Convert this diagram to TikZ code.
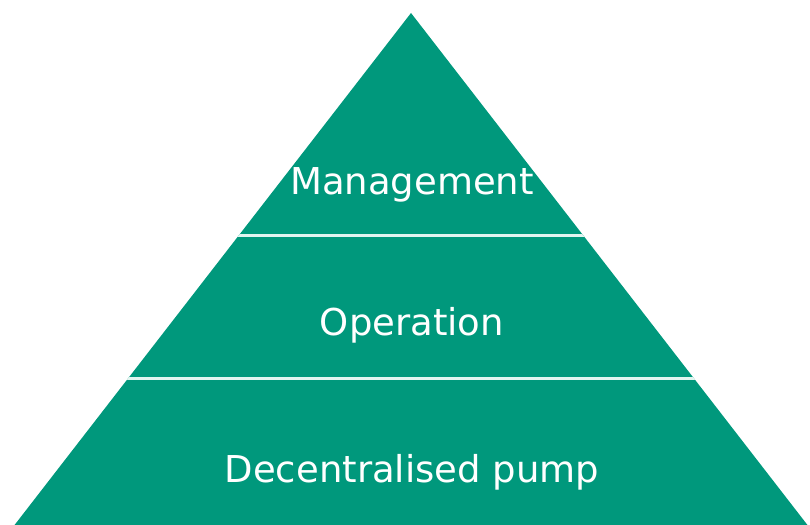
\documentclass[tikz,border=0pt]{standalone}
\usepackage{fontspec}
\setmainfont{DejaVu Sans}
\definecolor{pyr}{RGB}{0,152,124}
\definecolor{sep}{RGB}{225,245,240}
\begin{document}
\begin{tikzpicture}[x=1pt,y=-1pt,
  lbl/.style={text=white,font=\fontsize{37}{42}\selectfont,inner sep=0pt,anchor=base},
  sepline/.style={draw=sep,line width=3pt}]
\useasboundingbox (0,0) rectangle (810,524);
\coordinate (apex) at (411,13);
\coordinate (bl) at (13,527);
\coordinate (br) at (809,527);
\fill[pyr] (apex) -- (bl) -- (br) -- cycle;
\begin{scope}
\clip (apex) -- (bl) -- (br) -- cycle;
\draw[sepline] (0,235) -- (810,235);
\draw[sepline] (0,378) -- (810,378);
\end{scope}
\node[lbl] (m) at (412,194) {Management};
\node[lbl] (o) at (412,335) {Operation};
\node[lbl] (d) at (412,482) {Decentralised pump};
\end{tikzpicture}
\end{document}
